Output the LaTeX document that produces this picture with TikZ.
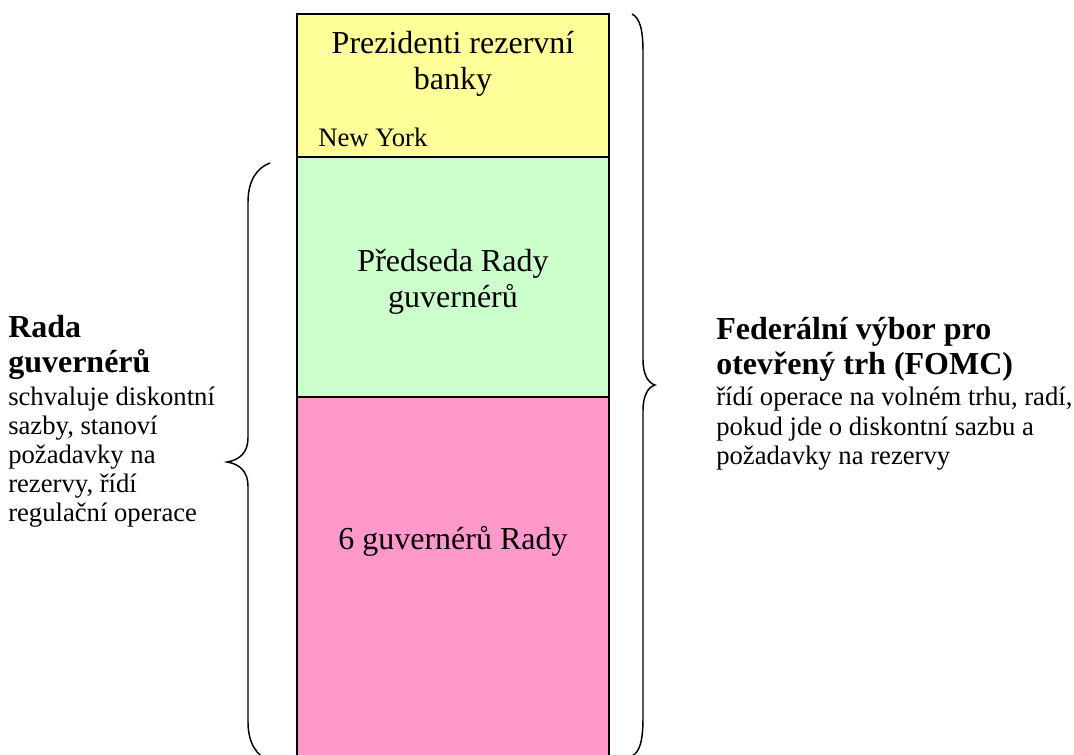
\documentclass[tikz,border=0pt]{standalone}
\usepackage{fontspec}
\setmainfont{Liberation Serif}
\definecolor{boxyellow}{HTML}{FFFF99}
\definecolor{boxgreen}{HTML}{CCFFCC}
\definecolor{boxpink}{HTML}{FF99CC}
\begin{document}
\begin{tikzpicture}[x=0.75pt,y=-0.75pt,
  panel/.style={draw=black,line width=1.4pt,minimum width=234pt,inner sep=0pt,outer sep=0pt},
  bigtxt/.style={font=\fontsize{24}{27}\selectfont,anchor=base,inner sep=0pt},
  smalltxt/.style={font=\fontsize{20}{22}\selectfont,anchor=base west,inner sep=0pt},
  headtxt/.style={font=\fontsize{24}{27}\selectfont\bfseries,anchor=base west,inner sep=0pt},
  bodytxt/.style={font=\fontsize{20}{22}\selectfont,anchor=base west,inner sep=0pt},
  bracepath/.style={draw=black,line width=1.1pt}]
\useasboundingbox (0,0) rectangle (1074,755);
% boxes
\node[panel,fill=boxpink,minimum height=302.25pt] (pink) at (453,598.5) {};
\node[panel,fill=boxgreen,minimum height=180pt] (green) at (453,277) {};
\node[panel,fill=boxyellow,minimum height=107.25pt] (yellow) at (453,85.5) {};
% box texts
\node[bigtxt] (y1) at (453,54) {Prezidenti rezervní};
\node[bigtxt] (y2) at (453,90) {banky};
\node[smalltxt] (ny) at (318,147) {New York};
\node[bigtxt] (g1) at (453,272) {Předseda Rady};
\node[bigtxt] (g2) at (453,308) {guvernérů};
\node[bigtxt] (p1) at (453,549) {6 guvernérů Rady};
% left brace
\coordinate (lt) at (270,163);
\coordinate (ltip) at (227,462);
\coordinate (lb) at (270,761);
\draw[bracepath] (lt) .. controls (256,168) and (248,182) .. (248,202) -- (248,438)
  .. controls (248,452) and (240,460) .. (ltip)
  .. controls (240,464) and (248,472) .. (248,486) -- (248,722)
  .. controls (248,742) and (256,756) .. (lb);
% right brace
\coordinate (rt) at (632,14);
\coordinate (rtip) at (655,385);
\coordinate (rb) at (632,756);
\draw[bracepath] (rt) .. controls (640,18) and (643,30) .. (643,52) -- (643,360)
  .. controls (643,374) and (648,383) .. (rtip)
  .. controls (648,387) and (643,396) .. (643,410) -- (643,718)
  .. controls (643,740) and (640,752) .. (rb);
% left texts
\node[headtxt] (lh1) at (8,338) {Rada};
\node[headtxt] (lh2) at (8,373) {guvernérů};
\node[bodytxt] (lb1) at (8,405) {schvaluje diskontní};
\node[bodytxt] (lb2) at (8,434) {sazby, stanoví};
\node[bodytxt] (lb3) at (8,463) {požadavky na};
\node[bodytxt] (lb4) at (8,492) {rezervy, řídí};
\node[bodytxt] (lb5) at (8,521) {regulační operace};
% right texts
\node[headtxt] (rh1) at (716,340) {Federální výbor pro};
\node[headtxt] (rh2) at (716,375) {otevřený trh (FOMC)};
\node[bodytxt] (rb1) at (716,406) {řídí operace na volném trhu, radí,};
\node[bodytxt] (rb2) at (716,435) {pokud jde o diskontní sazbu a};
\node[bodytxt] (rb3) at (716,464) {požadavky na rezervy};
\end{tikzpicture}
\end{document}
